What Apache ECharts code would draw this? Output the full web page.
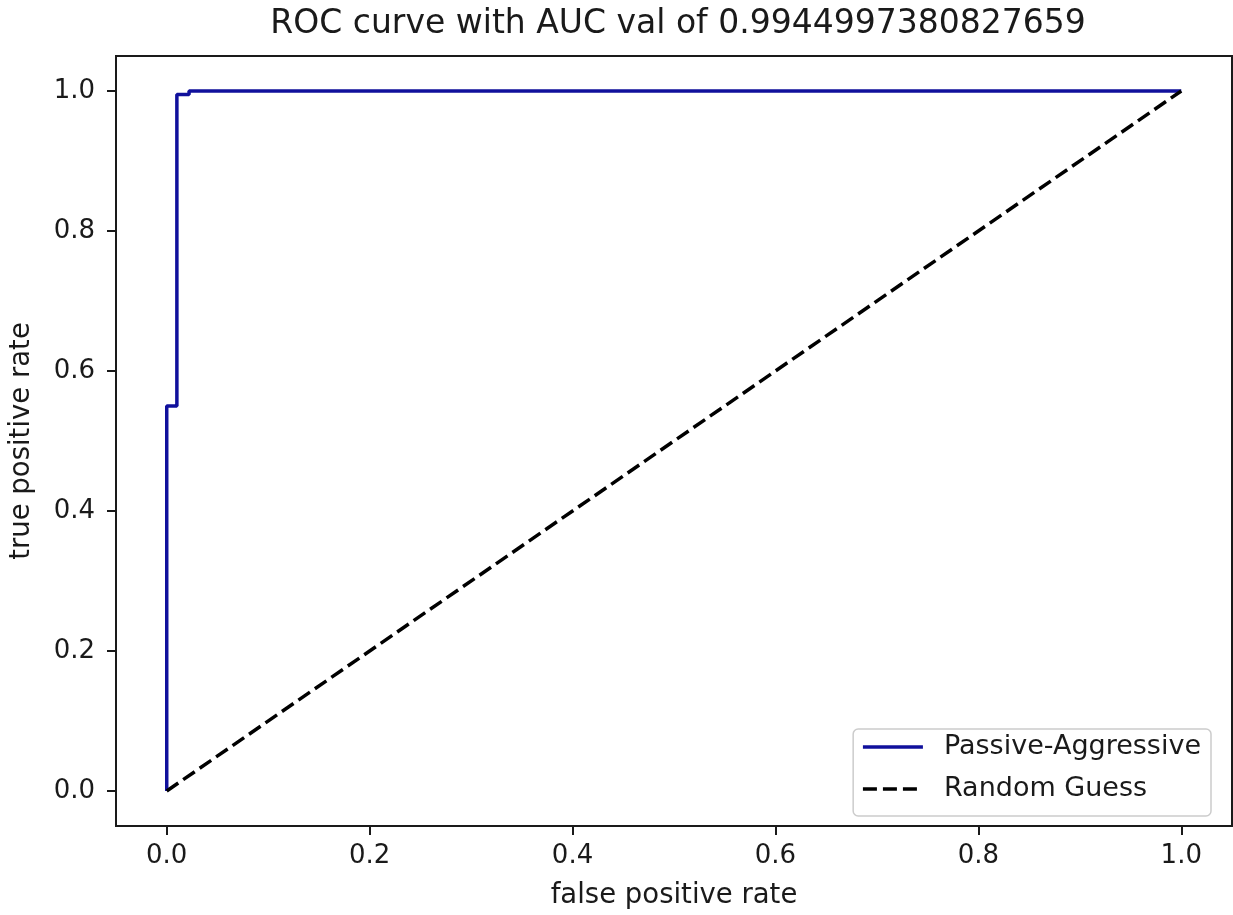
<!DOCTYPE html>
<html>
<head>
<meta charset="utf-8">
<script src="https://cdn.jsdelivr.net/npm/echarts@6/dist/echarts.min.js"></script>
<style>
  html, body { margin: 0; padding: 0; background: #fff; }
  #main { width: 1233px; height: 915px; }
</style>
</head>
<body>
<div id="main"></div>
<script>
// ROC curve points
var fpr = [0.0, 0.0, 0.01, 0.01, 0.022, 0.022, 1.0]
var tpr = [0.0, 0.55, 0.55, 0.995, 0.995, 1.0, 1.0]
// random guess diagonal
var guessX = [0.0, 1.0]
var guessY = [0.0, 1.0]
var ticks = [0.0, 0.2, 0.4, 0.6, 0.8, 1.0]

var font = 'DejaVu Sans'
var ink = '#1a1a1a'
var chart = echarts.init(document.getElementById('main'))

function pairs(xs, ys) {
  return xs.map(function (x, i) { return [x, ys[i]] })
}

function axis(name, gap, rotate, labelMargin) {
  return {
    type: 'value',
    min: -0.05,
    max: 1.05,
    name: name,
    nameLocation: 'middle',
    nameGap: gap,
    nameRotate: rotate,
    nameTextStyle: { fontFamily: font, fontSize: 27.5, color: ink },
    axisLine: { show: true, onZero: false, lineStyle: { color: ink, width: 2 } },
    splitLine: { show: false },
    axisTick: {
      show: true,
      length: 9,
      inside: false,
      customValues: ticks,
      lineStyle: { color: ink, width: 2 }
    },
    axisLabel: {
      customValues: ticks,
      margin: labelMargin,
      fontFamily: font,
      fontSize: 26,
      color: ink,
      formatter: function (v) { return v.toFixed(1) }
    }
  }
}

chart.setOption({
  animation: false,
  backgroundColor: '#fff',
  title: {
    text: 'ROC curve with AUC val of 0.9944997380827659',
    left: 673,
    textAlign: 'center',
    top: 3,
    textStyle: { fontFamily: font, fontSize: 33, fontWeight: 'normal', color: ink }
  },
  grid: {
    left: 116,
    right: 1,
    top: 56,
    bottom: 87,
    show: true,
    borderColor: ink,
    borderWidth: 2,
    backgroundColor: 'transparent'
  },
  xAxis: axis('false positive rate', 56, 0, 17),
  yAxis: axis('true positive rate', 80, 90, 21),
  legend: {
    orient: 'vertical',
    right: 22,
    bottom: 99,
    align: 'left',
    backgroundColor: 'rgba(255,255,255,0.8)',
    borderColor: '#cccccc',
    borderWidth: 1.5,
    borderRadius: 5,
    padding: [3, 10, 12, 8],
    itemWidth: 60,
    itemHeight: 14,
    itemGap: 12,
    itemStyle: { opacity: 0 },
    lineStyle: { width: 3.5 },
    textStyle: { fontFamily: font, fontSize: 27, lineHeight: 30, color: ink, padding: [0, 0, 0, 16] },
    data: ['Passive-Aggressive', 'Random Guess']
  },
  series: [
    {
      name: 'Passive-Aggressive',
      type: 'line',
      symbol: 'none',
      data: pairs(fpr, tpr),
      lineStyle: { color: '#10109c', width: 3.5 },
      itemStyle: { color: '#10109c' }
    },
    {
      name: 'Random Guess',
      type: 'line',
      symbol: 'none',
      data: pairs(guessX, guessY),
      lineStyle: { color: '#000', width: 3.5, type: [14, 6] },
      itemStyle: { color: '#000' }
    }
  ]
})
</script>
</body>
</html>
